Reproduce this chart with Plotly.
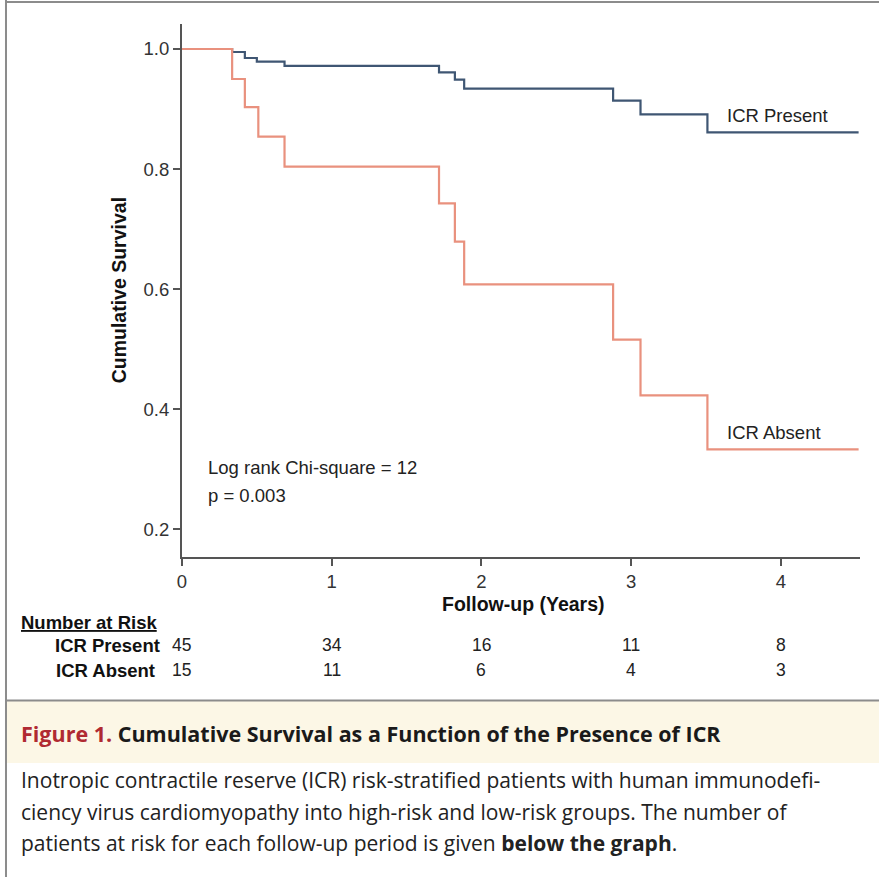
import plotly.graph_objects as go

# ---- data ----
present_t = [0, 0.335, 0.42, 0.50, 0.685, 1.717, 1.823, 1.885, 2.88, 3.063, 3.51, 4.52]
present_s = [1.0, 0.995, 0.985, 0.979, 0.972, 0.961, 0.949, 0.934, 0.914, 0.891, 0.861, 0.861]

absent_t = [0, 0.335, 0.42, 0.51, 0.685, 1.717, 1.823, 1.885, 2.88, 3.063, 3.51, 4.52]
absent_s = [1.0, 0.95, 0.903, 0.854, 0.804, 0.743, 0.679, 0.608, 0.516, 0.423, 0.333, 0.333]

risk_times = [0, 1, 2, 3, 4]
risk_present = [45, 34, 16, 11, 8]
risk_absent = [15, 11, 6, 4, 3]

y_ticks = [0.2, 0.4, 0.6, 0.8, 1.0]
y_ticklabels = ["0.2", "0.4", "0.6", "0.8", "1.0"]
x_ticks = [0, 1, 2, 3, 4]

W, H = 879, 877
BLUE = "#3f5673"
RED = "#e9917e"
AX = "#555555"
FONT = "Liberation Sans, Arial, sans-serif"
CAPFONT = "Open Sans, Lato, sans-serif"


def px(x):
    return x / W


def py(y):
    return 1 - y / H


fig = go.Figure()
fig.add_trace(go.Scatter(x=present_t, y=present_s, mode="lines", line_shape="hv",
                         line=dict(color=BLUE, width=2.2), name="ICR Present", showlegend=False))
fig.add_trace(go.Scatter(x=absent_t, y=absent_s, mode="lines", line_shape="hv",
                         line=dict(color=RED, width=2.2), name="ICR Absent", showlegend=False))

annotations = []
tf = dict(family=FONT, size=18.5, color="#222")
annotations.append(dict(text="ICR Present", x=px(724), y=py(115), xref="paper", yref="paper",
                        xanchor="left", yanchor="middle", showarrow=False, font=tf))
annotations.append(dict(text="ICR Absent", x=px(724), y=py(432), xref="paper", yref="paper",
                        xanchor="left", yanchor="middle", showarrow=False, font=tf))
annotations.append(dict(text="Log rank Chi-square = 12", x=px(202), y=py(467), xref="paper", yref="paper",
                        xanchor="left", yanchor="middle", showarrow=False, font=tf))
annotations.append(dict(text="p = 0.003", x=px(202), y=py(495), xref="paper", yref="paper",
                        xanchor="left", yanchor="middle", showarrow=False, font=tf))

# axis titles
annotations.append(dict(text="<b>Follow-up (Years)</b>", x=px(521), y=py(604), xref="paper", yref="paper",
                        xanchor="center", yanchor="middle", showarrow=False,
                        font=dict(family=FONT, size=19.5, color="#111")))
annotations.append(dict(text="<b>Cumulative Survival</b>", x=px(115), y=py(290), xref="paper", yref="paper",
                        xanchor="center", yanchor="middle", showarrow=False, textangle=-90,
                        font=dict(family=FONT, size=19.5, color="#111")))

# number at risk table
annotations.append(dict(text="<b><u>Number at Risk</u></b>", x=px(14), y=py(622), xref="paper", yref="paper",
                        xanchor="left", yanchor="middle", showarrow=False,
                        font=dict(family=FONT, size=18.5, color="#111")))
annotations.append(dict(text="<b>ICR Present</b>", x=px(158), y=py(645), xref="paper", yref="paper",
                        xanchor="right", yanchor="middle", showarrow=False,
                        font=dict(family=FONT, size=18.5, color="#111")))
annotations.append(dict(text="<b>ICR Absent</b>", x=px(153), y=py(670), xref="paper", yref="paper",
                        xanchor="right", yanchor="middle", showarrow=False,
                        font=dict(family=FONT, size=18.5, color="#111")))
for t, n in zip(risk_times, risk_present):
    annotations.append(dict(text=str(n), x=t, y=py(645), xref="x", yref="paper", xanchor="center",
                            yanchor="middle", showarrow=False, font=dict(family=FONT, size=17.5, color="#222")))
for t, n in zip(risk_times, risk_absent):
    annotations.append(dict(text=str(n), x=t, y=py(670), xref="x", yref="paper", xanchor="center",
                            yanchor="middle", showarrow=False, font=dict(family=FONT, size=17.5, color="#222")))

# caption
annotations.append(dict(
    text="<b><span style='color:#b02a32'>Figure 1.</span> Cumulative Survival as a Function of the Presence of ICR</b>",
    x=px(14), y=py(733), xref="paper", yref="paper", xanchor="left", yanchor="middle", showarrow=False,
    font=dict(family=CAPFONT, size=21.5, color="#1a1a1a")))
cap_lines = [
    "Inotropic contractile reserve (ICR) risk-stratified patients with human immunodefi-",
    "ciency virus cardiomyopathy into high-risk and low-risk groups. The number of",
    "patients at risk for each follow-up period is given <b>below the graph</b>.",
]
for i, line in enumerate(cap_lines):
    annotations.append(dict(text=line, x=px(14), y=py(780 + 31.5 * i), xref="paper", yref="paper",
                            xanchor="left", yanchor="middle", showarrow=False,
                            font=dict(family=CAPFONT, size=21, color="#222")))

shapes = [
    # beige caption band
    dict(type="rect", xref="paper", yref="paper", x0=px(2), x1=1, y0=py(763), y1=py(701),
         fillcolor="#fcf7e6", line=dict(width=0), layer="below"),
    # borders
    dict(type="line", xref="paper", yref="paper", x0=0, x1=1, y0=py(2), y1=py(2),
         line=dict(color="#8c8c8c", width=2)),
    dict(type="line", xref="paper", yref="paper", x0=px(1), x1=px(1), y0=0, y1=1,
         line=dict(color="#8c8c8c", width=2)),
    dict(type="line", xref="paper", yref="paper", x0=0, x1=1, y0=py(700.5), y1=py(700.5),
         line=dict(color="#8c8c8c", width=2)),
]

fig.update_layout(
    width=W, height=H,
    margin=dict(l=0, r=0, t=0, b=0),
    paper_bgcolor="white", plot_bgcolor="white",
    showlegend=False,
    annotations=annotations,
    shapes=shapes,
    xaxis=dict(domain=[px(178), px(860)], range=[0, 4.53], tickvals=x_ticks,
               showline=True, linecolor=AX, linewidth=2, ticks="outside", ticklen=7, tickwidth=1.5,
               tickcolor=AX, showgrid=False, zeroline=False,
               tickfont=dict(family=FONT, size=18.5, color="#333")),
    yaxis=dict(domain=[py(557), py(24)], range=[0.1539, 1.0416], tickvals=y_ticks, ticktext=y_ticklabels,
               showline=True, linecolor=AX, linewidth=2, ticks="outside", ticklen=7, tickwidth=1.5,
               tickcolor=AX, showgrid=False, zeroline=False,
               tickfont=dict(family=FONT, size=18.5, color="#333")),
)

fig.write_html("out.html", config={"displayModeBar": False},
               post_script="document.body.style.margin='0px';document.body.style.overflow='hidden';")
